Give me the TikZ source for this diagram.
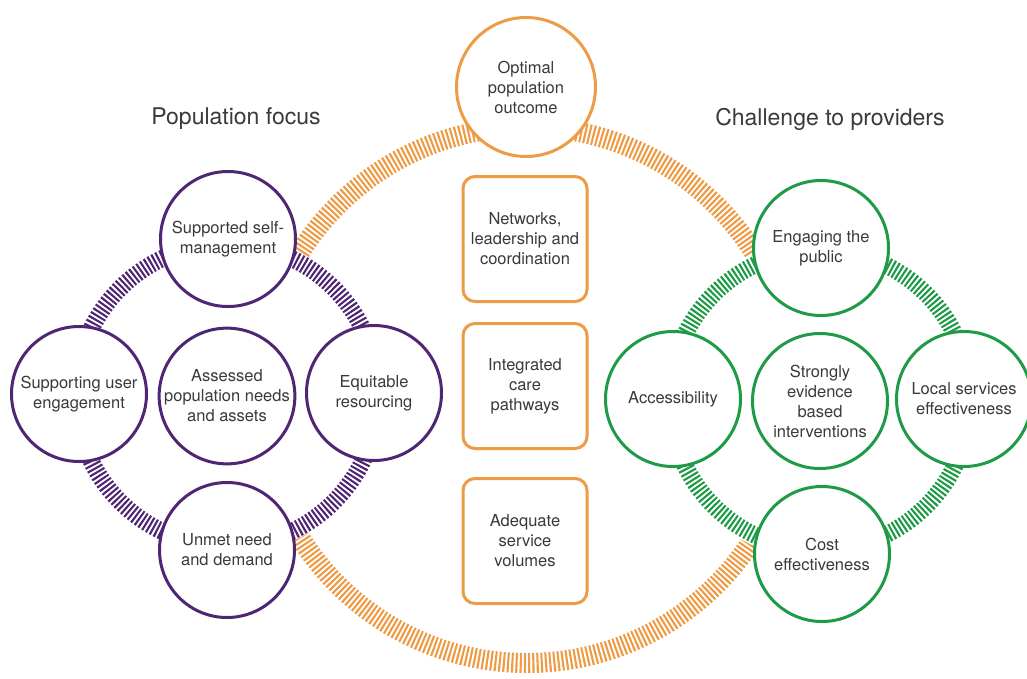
\documentclass[tikz,border=0pt]{standalone}
\usepackage{fontspec}
\setmainfont{TeX Gyre Heros}
\definecolor{purp}{HTML}{4F2673}
\definecolor{orng}{HTML}{EE9B45}
\definecolor{grn}{HTML}{1F9A46}
\definecolor{txt}{HTML}{3A3A3A}
\begin{document}
\begin{tikzpicture}[x=1pt,y=-1pt,
  lbl/.style={font=\fontsize{16.5}{20}\selectfont, text=txt, align=center},
  ttl/.style={font=\fontsize{23}{27}\selectfont, text=txt},
  pc/.style={circle, draw=purp, line width=3pt, fill=white, minimum size=135pt, inner sep=0pt, lbl},
  gc/.style={circle, draw=grn, line width=3pt, fill=white, minimum size=135pt, inner sep=0pt, lbl},
  oc/.style={circle, draw=orng, line width=3pt, fill=white, minimum size=139pt, inner sep=0pt, lbl},
  obox/.style={rectangle, rounded corners=12pt, draw=orng, line width=3pt, fill=white, minimum width=124pt, minimum height=125pt, inner sep=0pt, lbl},
  band/.style={line width=#1, dash pattern=on 2.1pt off 2.1pt},
]
\useasboundingbox[fill=white] (0,0) rectangle (1027,678);

% big orange ring
\draw[orng, band=20pt] (527,395) circle[radius=268pt];
% clear the inner regions of the two small rings
\fill[white] (227,395) circle[radius=160pt];
\fill[white] (820,400) circle[radius=160pt];
% purple and green rings
\draw[purp, band=17pt] (227,395) circle[radius=151pt];
\draw[grn, band=17pt] (820,400) circle[radius=150pt];

% titles
\node[ttl] (tpop) at (236,119) {Population focus};
\node[ttl] (tchal) at (830,119) {Challenge to providers};

% top circle
\node[oc] (opt) at (526,87) {Optimal\\population\\outcome};

% purple circles
\node[pc] (ssm) at (228,239) {Supported self-\\management};
\node[pc] (sue) at (79,394) {Supporting user\\engagement};
\node[pc] (apn) at (227,396) {Assessed\\population needs\\and assets};
\node[pc] (eqr) at (374,393) {Equitable\\resourcing};
\node[pc] (umd) at (227,550) {Unmet need\\and demand};

% green circles
\node[gc] (eng) at (821,248) {Engaging the\\public};
\node[gc] (acc) at (673,399) {Accessibility};
\node[gc] (sebi) at (820,401) {Strongly\\evidence\\based\\interventions};
\node[gc] (lse) at (964,399) {Local services\\effectiveness};
\node[gc] (ce) at (822,554) {Cost\\effectiveness};

% boxes
\node[obox] (nlc) at (525,239) {Networks,\\leadership and\\coordination};
\node[obox] (icp) at (525,386) {Integrated\\care\\pathways};
\node[obox] (asv) at (525,541) {Adequate\\service\\volumes};
\end{tikzpicture}
\end{document}
